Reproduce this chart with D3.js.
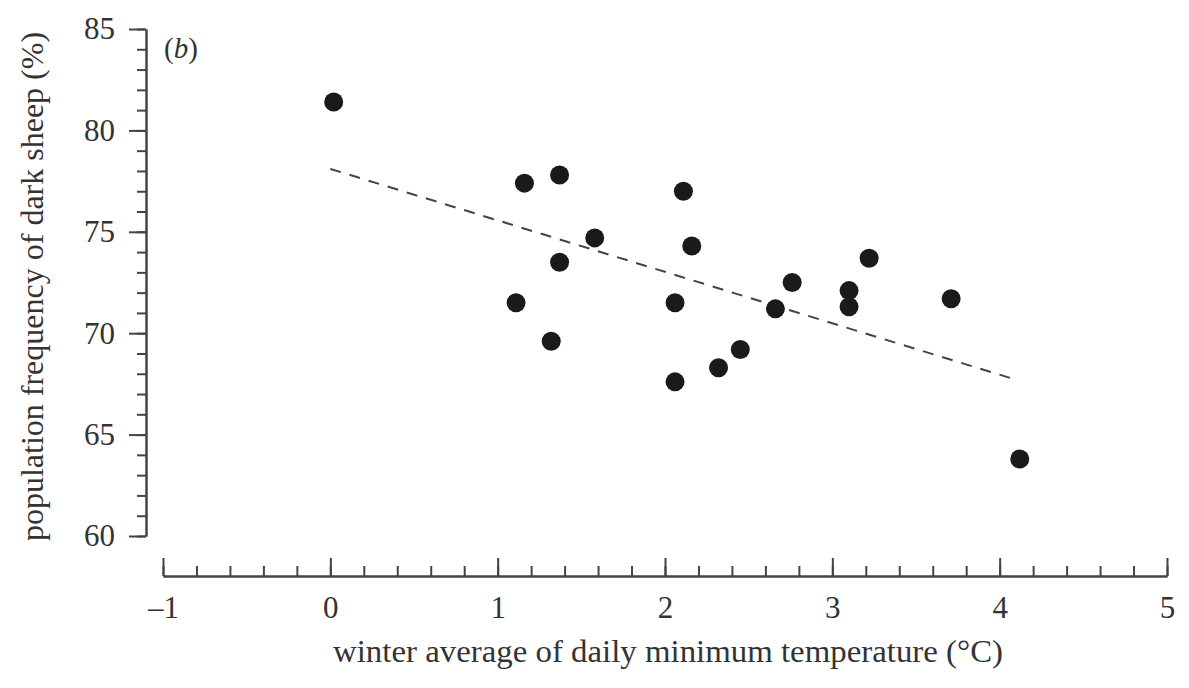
<!DOCTYPE html>
<html>
<head>
<meta charset="utf-8">
<script src="https://cdn.jsdelivr.net/npm/d3@7"></script>
<style>
  body { margin: 0; background: #fff; }
  svg { display: block; }
  text { font-family: "Liberation Serif", "Times New Roman", serif; fill: #333; }
  .axis path, .axis line { stroke: #444; stroke-width: 2; }
</style>
</head>
<body>
<div id="chart"></div>
<script>
// winter average of daily minimum temperature (°C)
let tempC = [0.02, 1.16, 1.37, 2.11, 1.58, 2.16, 1.37, 1.11, 2.06, 2.76, 2.66, 1.32, 2.45, 2.32, 2.06, 3.22, 3.10, 3.10, 3.71, 4.12];
// population frequency of dark sheep (%)
let darkPct = [81.4, 77.4, 77.8, 77.0, 74.7, 74.3, 73.5, 71.5, 71.5, 72.5, 71.2, 69.6, 69.2, 68.3, 67.6, 73.7, 72.1, 71.3, 71.7, 63.8];
// dashed regression line end points
let trendX = [0, 4.1];
let trendY = [78.1, 67.7];

let xMajor = [-1, 0, 1, 2, 3, 4, 5];
let yMajor = [60, 65, 70, 75, 80, 85];

var width = 1189, height = 688;

// ranges
var x = d3.scaleLinear().domain([-1, 5]).range([163, 1167]);
var y = d3.scaleLinear().domain([60, 85]).range([536, 29]);

var svg = d3.select("#chart").append("svg")
    .attr("width", width)
    .attr("height", height);

// minor ticks
var xMinor = d3.range(-1, 5.001, 0.2);
var yMinor = d3.range(60, 85.001, 1);

svg.append("g")
    .attr("class", "axis")
    .attr("transform", "translate(0,576)")
    .call(d3.axisBottom(x).tickValues(xMinor).tickSizeInner(-10).tickSizeOuter(0).tickFormat(""));

svg.append("g")
    .attr("class", "axis")
    .attr("transform", "translate(146,0)")
    .call(d3.axisLeft(y).tickValues(yMinor).tickSizeInner(9).tickSizeOuter(0).tickFormat(""));

// major ticks + labels
var xAxis = svg.append("g")
    .attr("class", "axis")
    .attr("transform", "translate(0,576)")
    .call(d3.axisBottom(x).tickValues(xMajor).tickSizeInner(-18).tickSizeOuter(0).tickPadding(20)
      .tickFormat(d => d < 0 ? "\u2013" + Math.abs(d) : d));
xAxis.selectAll("text").style("font-size", "31px").attr("fill", "#333");

var yAxis = svg.append("g")
    .attr("class", "axis")
    .attr("transform", "translate(146,0)")
    .call(d3.axisLeft(y).tickValues(yMajor).tickSizeInner(17).tickSizeOuter(0).tickPadding(14));
yAxis.selectAll("text").style("font-size", "31px").attr("fill", "#333");

// trend line
svg.append("line")
    .attr("x1", x(trendX[0])).attr("y1", y(trendY[0]))
    .attr("x2", x(trendX[1])).attr("y2", y(trendY[1]))
    .attr("stroke", "#444")
    .attr("stroke-width", 2)
    .attr("stroke-dasharray", "11,9");

// points
svg.selectAll(".dot")
    .data(tempC)
    .enter().append("circle")
      .attr("class", "dot")
      .attr("cx", d => x(d))
      .attr("cy", (d, i) => y(darkPct[i]))
      .attr("r", 9.5)
      .attr("fill", "#1a1a1a");

// panel label
svg.append("text")
    .attr("x", 164).attr("y", 58)
    .style("font-size", "29px")
    .html('(<tspan font-style="italic">b</tspan>)');

// axis titles
svg.append("text")
    .attr("x", 333).attr("y", 662)
    .attr("textLength", 670)
    .attr("lengthAdjust", "spacingAndGlyphs")
    .style("font-size", "31px")
    .text("winter average of daily minimum temperature (\u00B0C)");

svg.append("text")
    .attr("transform", "translate(43," + (y(72.5) + 4) + ") rotate(-90)")
    .attr("text-anchor", "middle")
    .style("font-size", "32px")
    .text("population frequency of dark sheep (%)");
</script>
</body>
</html>
